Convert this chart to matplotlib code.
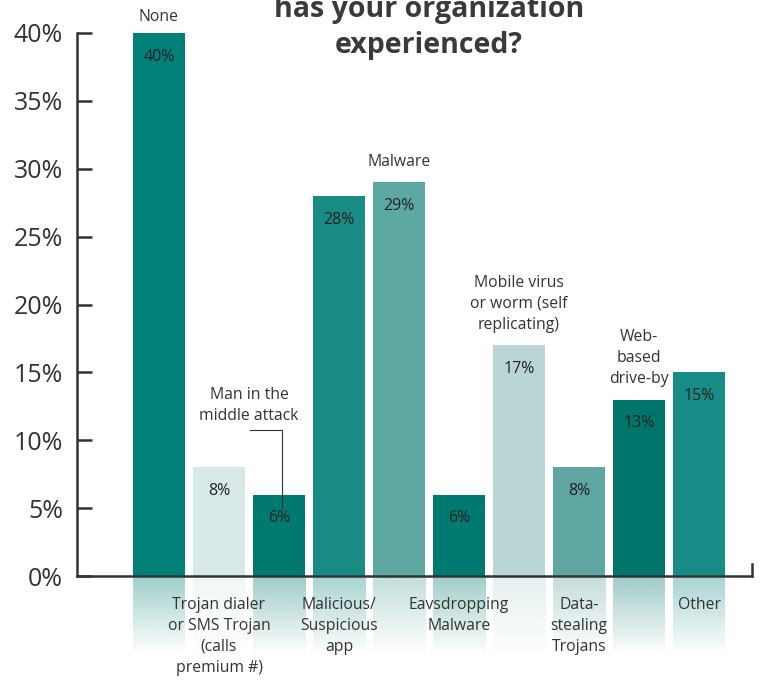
import numpy as np
import matplotlib.pyplot as plt
from matplotlib.colors import to_rgb

plt.rcParams['font.family'] = ['Open Sans', 'DejaVu Sans']

# survey answers, in the order the bars are drawn
categories = ['None',
              'Trojan dialer\nor SMS Trojan\n(calls\npremium #)',
              'Man in the\nmiddle attack',
              'Malicious/\nSuspicious\napp',
              'Malware',
              'Eavsdropping\nMalware',
              'Mobile virus\nor worm (self\nreplicating)',
              'Data-\nstealing\nTrojans',
              'Web-\nbased\ndrive-by',
              'Other']
values = [40, 8, 6, 28, 29, 6, 17, 8, 13, 15]
colors = ['#008077', '#d8e7e7', '#00796f', '#188b85', '#5ea8a4',
          '#007a70', '#b9d6d5', '#5fa5a2', '#00756c', '#178b86']
# True -> category name sits above the bar, False -> below the axis
above = [True, False, True, False, True, False, True, False, True, False]
yticks = [0, 5, 10, 15, 20, 25, 30, 35, 40]

ink = '#333333'

fig = plt.figure(figsize=(7.6, 6.81), dpi=100)
ax = fig.add_axes([77 / 760, 105 / 681, 675 / 760, 543 / 681])

x = np.arange(len(values))
width = 52 / 60
ax.bar(x, values, width=width, color=colors, zorder=2)

# faded reflection under every bar
for xi, c in zip(x, colors):
    r, g, b = to_rgb(c)
    n = 100
    grad = np.zeros((n, 1, 4))
    grad[..., 0], grad[..., 1], grad[..., 2] = r, g, b
    grad[:, 0, 3] = np.linspace(0.38, 0.0, n)
    ax.imshow(grad, extent=[xi - width / 2, xi + width / 2, -5.8, 0],
              aspect='auto', interpolation='bilinear', origin='upper',
              clip_on=False, zorder=1)

xl = (77 - 159) / 60
xr = (752 - 159) / 60
ax.set_xlim(xl, xr)
ax.set_ylim(0, 40)

# value labels inside the bars
for xi, v in zip(x, values):
    ax.annotate(f'{v}%', (xi, v), xytext=(0, -17), textcoords='offset points',
                ha='center', va='center', fontsize=11.5, color='#222222',
                zorder=3)

# category names
for xi, v, name, up in zip(x, values, categories, above):
    if name.startswith('Man in'):
        continue
    if up:
        gap = 6 if v == 40 else 9
        ax.annotate(name, (xi, v), xytext=(0, gap), textcoords='offset points',
                    ha='center', va='bottom', fontsize=11.3, color=ink,
                    linespacing=1.42, annotation_clip=False)
    else:
        ax.annotate(name, (xi, 0), xytext=(0, -15), textcoords='offset points',
                    ha='center', va='top', fontsize=11.3, color=ink,
                    linespacing=1.42, annotation_clip=False)

# Man in the middle attack: label with leader line into its bar
px = 543 / 40
ax.text(249 / 60 - 159 / 60, (576 - 424) / px, categories[2], ha='center',
        va='bottom', fontsize=11.3, color=ink, linespacing=1.42)
lead_x = (282 - 159) / 60
ax.plot([(250 - 159) / 60, lead_x, lead_x],
        [(576 - 430) / px, (576 - 430) / px, (576 - 508) / px],
        color=ink, lw=0.8, zorder=4)

# axes styling
for side in ['top', 'right']:
    ax.spines[side].set_visible(False)
for side in ['left', 'bottom']:
    ax.spines[side].set_color(ink)
    ax.spines[side].set_linewidth(1.8)
    ax.spines[side].set_zorder(5)
ax.plot([xr, xr], [0, 0.85], color=ink, lw=1.8, clip_on=False, zorder=5)

ax.set_xticks([])
ax.set_yticks(yticks)
ax.set_yticklabels([f'{t}%' for t in yticks])
ax.tick_params(axis='y', direction='in', length=11, width=1.8, color=ink,
               labelsize=18, labelcolor=ink, pad=10)
ax.set_facecolor('none')

# title, its first line runs off the top edge
fig.text(429 / 760, 1 - 53 / 681, 'has your organization\nexperienced?',
         ha='center', va='baseline', fontsize=20.5, fontweight='bold',
         color='#3a3a3a', linespacing=1.3)

fig.savefig('out.png', dpi=100)
